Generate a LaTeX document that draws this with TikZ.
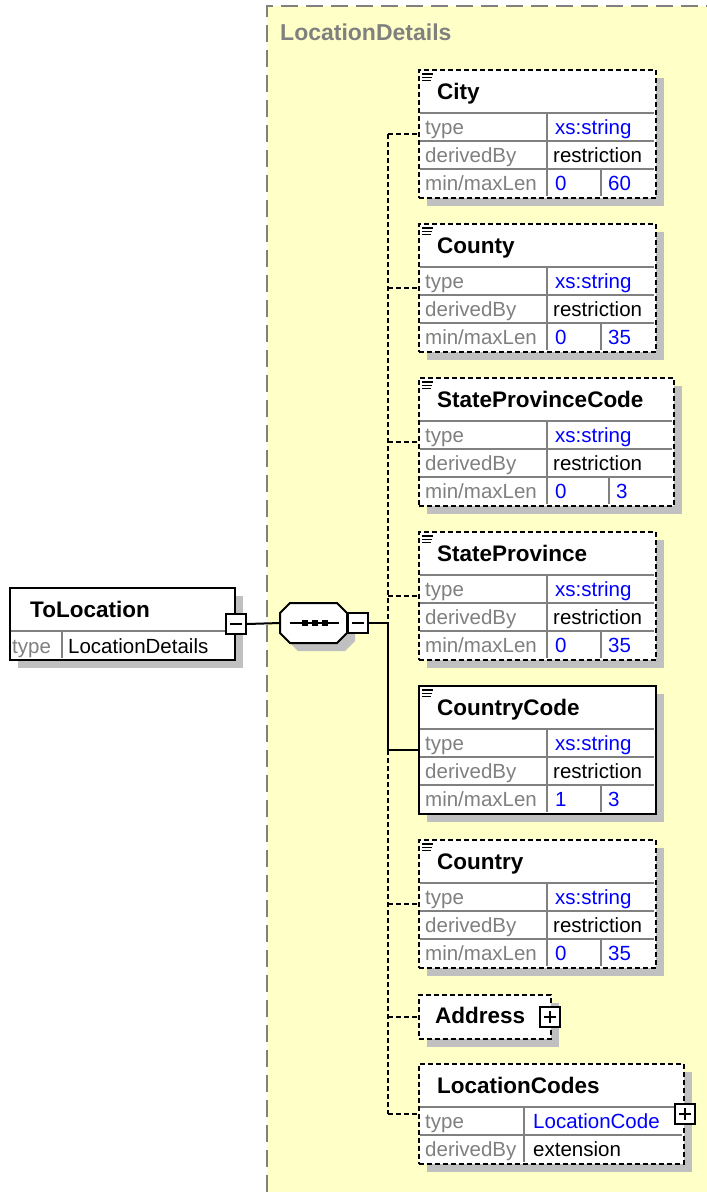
\documentclass[tikz,border=0pt]{standalone}
\usepackage{fontspec}
\setmainfont{Liberation Sans}
\usetikzlibrary{shadows}
\definecolor{Pad}{HTML}{FFFFC8}
\definecolor{Frame}{HTML}{808080}
\definecolor{Shade}{HTML}{C0C0C0}
\definecolor{Faint}{HTML}{808080}
\definecolor{TypeBlue}{HTML}{0000FF}
\tikzset{
  elem/.style={draw, fill=white, line width=2pt, anchor=north west, inner sep=0pt,
    drop shadow={shadow xshift=8pt, shadow yshift=-8pt, fill=Shade, opacity=1}},
  opt/.style={dash pattern=on 5pt off 3pt},
  link/.style={line width=2pt},
  cell/.style={draw=Frame, line width=1.6pt},
  key/.style={anchor=base west, inner sep=0pt, text=Faint, font=\fontsize{20.5}{24}\selectfont},
  val/.style={key, text=black},
  ref/.style={key, text=TypeBlue},
  title/.style={anchor=base west, inner sep=0pt, font=\fontsize{22.5}{26}\selectfont\bfseries},
  pm/.style={draw, fill=white, line width=1.8pt, minimum size=20pt, inner sep=0pt},
}
\begin{document}
\begin{tikzpicture}[x=1pt, y=-1pt]
  \useasboundingbox (0,0) rectangle (707,1192);
  % Complex type area
  \fill[Pad] (267,6) rectangle (707,1192);
  \draw[Frame, line width=2pt, dash pattern=on 17pt off 8pt] (267,1192) -- (267,6) -- (707,6);
  \node[title, text=Frame, font=\fontsize{23}{26}\selectfont\bfseries] (frame-name) at (280,40) {LocationDetails};
  \coordinate (spine) at (388,623);
  % Root element
  \node[elem, minimum width=225pt, minimum height=72pt] (toloc) at (9,587) {};
  \draw[cell] (10.5,631) -- (233,631) (62,631) -- (62,658);
  \node[title] (toloc-name) at (30,617) {ToLocation};
  \node[key] (toloc-k1) at (12,653) {type};
  \node[val] (toloc-v1) at (68,653) {LocationDetails};
  \node[pm] (tominus) at (toloc.east) {};
  \draw[line width=1.6pt] ([xshift=-6pt]tominus.center) -- ([xshift=6pt]tominus.center);
  % Sequence
  \fill[Shade] (298,611) -- (345,611) -- (355,621) -- (355,641) -- (345,651) -- (298,651) -- (288,641) -- (288,621) -- cycle;
  \draw[fill=white, line width=2pt] (290,603) -- (337,603) -- (347,613) -- (347,633) -- (337,643) -- (290,643) -- (280,633) -- (280,613) -- cycle;
  \node[minimum width=67pt, minimum height=40pt, inner sep=0pt, outer sep=0pt] (seq) at (313.5,623) {};
  \draw[line width=1.6pt] (290,623) -- (339,623);
  \foreach \dx in {305,315,325} \fill (\dx-3,620) rectangle (\dx+3,626);
  \node[pm] (seqminus) at (358,623) {};
  \draw[line width=1.6pt] ([xshift=-6pt]seqminus.center) -- ([xshift=6pt]seqminus.center);
  \draw[link] (tominus.east) -- (seq.west);
  \draw[link] (seqminus.east) -- (spine);
  % Simple elements
  \foreach \id/\lbl/\ytop/\wid/\subx/\lenmin/\lenmax/\bord in {
      city/City/69/237/183/0/60/opt,
      county/County/223/237/183/0/35/opt,
      spcode/StateProvinceCode/377/255/191/0/3/opt,
      sprov/StateProvince/531/237/183/0/35/opt,
      ccode/CountryCode/685/237/183/1/3/solid,
      country/Country/839/237/183/0/35/opt}{
    \node[elem, \bord, minimum width=\wid pt, minimum height=128pt] (\id) at (418,\ytop) {};
    \draw[cell] (419.5,\ytop+44) -- (416.5+\wid,\ytop+44) (419.5,\ytop+72) -- (416.5+\wid,\ytop+72)
      (419.5,\ytop+100) -- (416.5+\wid,\ytop+100) (547,\ytop+44) -- (547,\ytop+127)
      (418+\subx,\ytop+100) -- (418+\subx,\ytop+127);
    \draw[line width=1.3pt] (422,\ytop+5) -- (433,\ytop+5) (422,\ytop+8.3) -- (432,\ytop+8.3) (422,\ytop+11.6) -- (431,\ytop+11.6);
    \node[title] (\id-name) at (437,\ytop+30) {\lbl};
    \node[key] (\id-k1) at (425,\ytop+65) {type};
    \node[key] (\id-k2) at (425,\ytop+93) {derivedBy};
    \node[key] (\id-k3) at (425,\ytop+121) {min/maxLen};
    \node[ref] (\id-v1) at (555,\ytop+65) {xs:string};
    \node[val] (\id-v2) at (553,\ytop+93) {restriction};
    \node[ref] (\id-lo) at (555,\ytop+121) {\lenmin};
    \node[ref] (\id-hi) at (425+\subx,\ytop+121) {\lenmax};
    \draw[link, \bord] (\id.west -| spine) -- (\id.west);
  }
  % Complex elements
  \node[elem, opt, minimum width=132pt, minimum height=44pt] (address) at (418,994) {};
  \node[title] (address-name) at (435,1023) {Address};
  \node[pm] (addplus) at ([xshift=-2pt]address.east) {};
  \draw[line width=1.6pt] ([xshift=-6pt]addplus.center) -- ([xshift=6pt]addplus.center)
    ([yshift=-6pt]addplus.center) -- ([yshift=6pt]addplus.center);
  \node[elem, opt, minimum width=265pt, minimum height=100pt] (loccodes) at (418,1063) {};
  \draw[cell] (419.5,1107) -- (682,1107) (419.5,1135) -- (682,1135) (524,1107) -- (524,1162);
  \node[title] (loccodes-name) at (437,1093) {LocationCodes};
  \node[key] (loccodes-k1) at (425,1128) {type};
  \node[ref] (loccodes-v1) at (533,1128) {LocationCode};
  \node[key] (loccodes-k2) at (425,1156) {derivedBy};
  \node[val] (loccodes-v2) at (533,1156) {extension};
  \node[pm] (lcplus) at (loccodes.east) {};
  \draw[line width=1.6pt] ([xshift=-6pt]lcplus.center) -- ([xshift=6pt]lcplus.center)
    ([yshift=-6pt]lcplus.center) -- ([yshift=6pt]lcplus.center);
  % Spine
  \draw[link, opt] (city.west -| spine) -- (spine);
  \draw[link] (spine) -- (ccode.west -| spine);
  \draw[link, opt] (ccode.west -| spine) -- (loccodes.west -| spine);
  \draw[link, opt] (address.west -| spine) -- (address.west);
  \draw[link, opt] (loccodes.west -| spine) -- (loccodes.west);
\end{tikzpicture}
\end{document}
